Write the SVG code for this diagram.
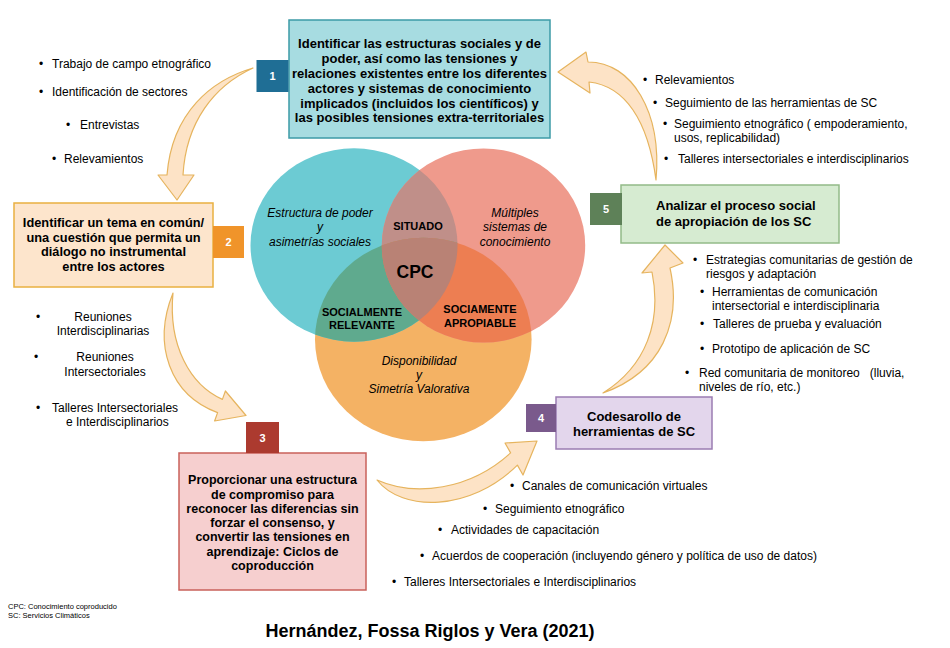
<svg xmlns="http://www.w3.org/2000/svg" width="950" height="648" viewBox="0 0 950 648">
<defs>
<style>
text{font-family:"Liberation Sans",Arial,Helvetica,sans-serif;fill:#000}
.bx{font-size:13px;font-weight:bold;text-anchor:middle}
.tab{font-size:11px;font-weight:bold;fill:#fff;text-anchor:middle}
.li{font-size:12px}
.it{font-size:12px;font-style:italic;text-anchor:middle}
.vb{font-size:11px;font-weight:bold;text-anchor:middle}
.arr{fill:#fde3c6;stroke:#e6b45e;stroke-width:1.2;stroke-linejoin:round}
</style>
<clipPath id="cTeal"><ellipse cx="354" cy="245" rx="103.5" ry="96.7"/></clipPath>
<clipPath id="cRed"><ellipse cx="483.5" cy="245.5" rx="101.7" ry="97"/></clipPath>
</defs>
<rect width="950" height="648" fill="#fff"/>

<g id="venn">
<ellipse cx="423.3" cy="339.5" rx="108.3" ry="101.8" fill="#f4b264"/>
<ellipse cx="354" cy="245" rx="103.5" ry="96.7" fill="#6ccbd3"/>
<ellipse cx="483.5" cy="245.5" rx="101.7" ry="97" fill="#ef9a8c"/>
<ellipse cx="483.5" cy="245.5" rx="101.7" ry="97" fill="#c08f89" clip-path="url(#cTeal)"/>
<ellipse cx="423.3" cy="339.5" rx="108.3" ry="101.8" fill="#5faa8e" clip-path="url(#cTeal)"/>
<ellipse cx="423.3" cy="339.5" rx="108.3" ry="101.8" fill="#ed7e52" clip-path="url(#cRed)"/>
<g clip-path="url(#cRed)"><ellipse cx="423.3" cy="339.5" rx="108.3" ry="101.8" fill="#b98275" clip-path="url(#cTeal)"/></g>
<text class="it" x="320" y="217">Estructura de poder</text>
<text class="it" x="320" y="231">y</text>
<text class="it" x="320" y="246">asimetrías sociales</text>
<text class="it" x="515" y="217">Múltiples</text>
<text class="it" x="515" y="231">sistemas de</text>
<text class="it" x="515" y="246">conocimiento</text>
<text class="it" x="419" y="365">Disponibilidad</text>
<text class="it" x="419" y="379">y</text>
<text class="it" x="419" y="392.5">Simetría Valorativa</text>
<text class="vb" x="418" y="230">SITUADO</text>
<text x="415" y="278" style="font-size:17.5px;font-weight:bold;text-anchor:middle">CPC</text>
<text class="vb" x="362" y="315.5">SOCIALMENTE</text>
<text class="vb" x="362" y="329">RELEVANTE</text>
<text class="vb" x="480" y="313">SOCIAMENTE</text>
<text class="vb" x="480" y="327">APROPIABLE</text>
</g>

<g id="connectors">
<path class="arr" d="M253,68 C212,80 172,112 167,175 L158,175 L177,200 L194,175 L183,175 C186,122 214,86 253,68 Z"/>
<path class="arr" d="M173,293 C152,345 170,395 217.6,412.6 L214.6,421 L246,415.5 L225.4,391 L222.4,399.4 C190,385 168,345 173,293 Z"/>
<path class="arr" d="M377,480 C402,512 470,512 517.4,465.1 L523,475 L537,441 L505,443 L510.6,452.9 C470,490 415,497 377,480 Z"/>
<path class="arr" d="M603,393 C662,372 682,322 670,268 L683,263 L665,245 L642,273 L652,272 C662,322 646,366 603,393 Z"/>
<path class="arr" d="M656,180 C662,112 632,62 588,62 L586,52 L558,72 L590,93 L589,82 C625,86 648,120 656,180 Z"/>
</g>

<g id="box1">
<rect x="289" y="20" width="261" height="118" fill="#a7dce1" stroke="#3d9ba7" stroke-width="1.5"/>
<rect x="256.5" y="60" width="32" height="32" fill="#1f6e95"/>
<text class="tab" x="272.5" y="80">1</text>
<text class="bx" x="419.5" y="48">Identificar las estructuras sociales y de</text>
<text class="bx" x="419.5" y="63">poder, así como las tensiones y</text>
<text class="bx" x="419.5" y="78">relaciones existentes entre los diferentes</text>
<text class="bx" x="419.5" y="93">actores y sistemas de conocimiento</text>
<text class="bx" x="419.5" y="108">implicados (incluidos los científicos) y</text>
<text class="bx" x="419.5" y="122">las posibles tensiones extra-territoriales</text>
</g>

<g id="box2">
<rect x="14" y="203" width="199" height="84" fill="#fde5cc" stroke="#e9b040" stroke-width="1.5"/>
<rect x="213" y="226" width="31" height="32" fill="#f0942a"/>
<text class="tab" x="228.5" y="246">2</text>
<text class="bx" x="113.5" y="227" style="font-size:12.8px">Identificar un tema en común/</text>
<text class="bx" x="113.5" y="241.5" style="font-size:12.8px">una cuestión que permita un</text>
<text class="bx" x="113.5" y="256" style="font-size:12.8px">diálogo no instrumental</text>
<text class="bx" x="113.5" y="270.5" style="font-size:12.8px">entre los actores</text>
</g>

<g id="box3">
<rect x="179" y="453" width="187" height="137" fill="#f6cfcf" stroke="#c9615b" stroke-width="1.5"/>
<rect x="246" y="422" width="33" height="31" fill="#ac3a2f"/>
<text class="tab" x="262.5" y="441.5">3</text>
<text class="bx" x="272.5" y="484" style="font-size:12.5px">Proporcionar una estructura</text>
<text class="bx" x="272.5" y="498.5" style="font-size:12.5px">de compromiso para</text>
<text class="bx" x="272.5" y="513" style="font-size:12.5px">reconocer las diferencias sin</text>
<text class="bx" x="272.5" y="527" style="font-size:12.5px">forzar el consenso, y</text>
<text class="bx" x="272.5" y="541" style="font-size:12.5px">convertir las tensiones en</text>
<text class="bx" x="272.5" y="555.5" style="font-size:12.5px">aprendizaje: Ciclos de</text>
<text class="bx" x="272.5" y="569.5" style="font-size:12.5px">coproducción</text>
</g>

<g id="box4">
<rect x="556" y="397" width="156" height="52" fill="#e3d6ec" stroke="#9b7cb2" stroke-width="1.5"/>
<rect x="526" y="404" width="30" height="28" fill="#7a5a8c"/>
<text class="tab" x="541" y="422">4</text>
<text class="bx" x="634" y="421">Codesarollo de</text>
<text class="bx" x="634" y="436">herramientas de SC</text>
</g>

<g id="box5">
<rect x="621" y="185" width="218" height="58" fill="#d6ebd1" stroke="#93bb88" stroke-width="1.5"/>
<rect x="590" y="193" width="32" height="32" fill="#5e8158"/>
<text class="tab" x="606" y="213">5</text>
<text class="bx" x="656" y="209.5" style="text-anchor:start">Analizar el proceso social</text>
<text class="bx" x="656" y="226" style="text-anchor:start">de apropiación de los SC</text>
</g>

<g id="list1">
<text class="li" x="39" y="67.5">•</text><text class="li" x="52" y="67.5">Trabajo de campo etnográfico</text>
<text class="li" x="39" y="96">•</text><text class="li" x="52" y="96">Identificación de sectores</text>
<text class="li" x="66" y="129">•</text><text class="li" x="80" y="129">Entrevistas</text>
<text class="li" x="52" y="163">•</text><text class="li" x="64" y="163">Relevamientos</text>
</g>

<g id="list2">
<text class="li" x="36" y="321">•</text>
<text class="li" x="103" y="321" text-anchor="middle">Reuniones</text>
<text class="li" x="103" y="335" text-anchor="middle">Interdisciplinarias</text>
<text class="li" x="34" y="361">•</text>
<text class="li" x="105" y="361" text-anchor="middle">Reuniones</text>
<text class="li" x="105" y="376" text-anchor="middle">Intersectoriales</text>
<text class="li" x="36" y="412">•</text>
<text class="li" x="52" y="412">Talleres Intersectoriales</text>
<text class="li" x="66" y="426">e Interdisciplinarios</text>
</g>

<g id="list5">
<text class="li" x="643" y="83.5">•</text><text class="li" x="655" y="83.5">Relevamientos</text>
<text class="li" x="653" y="107">•</text><text class="li" x="665" y="107">Seguimiento de las herramientas de SC</text>
<text class="li" x="663" y="127.5">•</text><text class="li" x="674" y="127.5">Seguimiento etnográfico ( empoderamiento,</text>
<text class="li" x="674" y="141.5">usos, replicabilidad)</text>
<text class="li" x="664" y="163">•</text><text class="li" x="678" y="163">Talleres intersectoriales e interdisciplinarios</text>
</g>

<g id="list4">
<text class="li" x="693" y="264">•</text><text class="li" x="706" y="264">Estrategias comunitarias de gestión de</text>
<text class="li" x="706" y="278">riesgos y adaptación</text>
<text class="li" x="700" y="296">•</text><text class="li" x="712" y="296">Herramientas de comunicación</text>
<text class="li" x="712" y="310">intersectorial e interdisciplinaria</text>
<text class="li" x="700" y="327.5">•</text><text class="li" x="713" y="327.5">Talleres de prueba y evaluación</text>
<text class="li" x="700" y="352.5">•</text><text class="li" x="712" y="352.5">Prototipo de aplicación de SC</text>
<text class="li" x="685" y="376.5">•</text><text class="li" x="699" y="376.5" xml:space="preserve">Red comunitaria de monitoreo   (lluvia,</text>
<text class="li" x="699" y="391">niveles de río, etc.)</text>
</g>

<g id="list3">
<text class="li" x="510" y="490">•</text><text class="li" x="522" y="490">Canales de comunicación virtuales</text>
<text class="li" x="483" y="512.5">•</text><text class="li" x="495" y="512.5">Seguimiento etnográfico</text>
<text class="li" x="438" y="534">•</text><text class="li" x="451" y="534">Actividades de capacitación</text>
<text class="li" x="420" y="560">•</text><text class="li" x="432" y="560">Acuerdos de cooperación (incluyendo género y política de uso de datos)</text>
<text class="li" x="392" y="586">•</text><text class="li" x="404" y="586">Talleres Intersectoriales e Interdisciplinarios</text>
</g>

<g id="notes">
<text x="8" y="609" style="font-size:7.5px">CPC: Conocimiento coproducido</text>
<text x="8" y="618" style="font-size:7.5px">SC: Servicios Climáticos</text>
<text x="430" y="637" style="font-size:18px;font-weight:bold;text-anchor:middle">Hernández, Fossa Riglos y Vera (2021)</text>
</g>
</svg>
